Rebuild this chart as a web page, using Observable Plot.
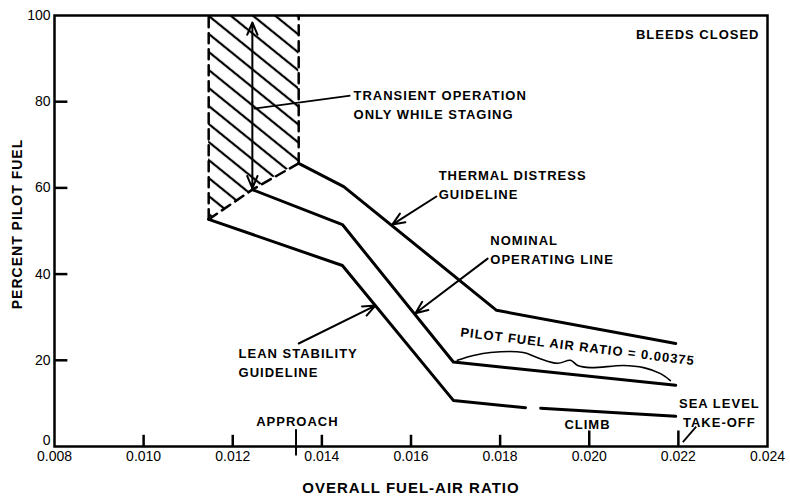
<!DOCTYPE html>
<html><head><meta charset="utf-8">
<script src="https://cdn.jsdelivr.net/npm/d3@7"></script>
<script src="https://cdn.jsdelivr.net/npm/@observablehq/plot@0.6"></script>
<style>body{margin:0;background:#fff}</style>
</head><body><div id="chart"></div>
<script>
// ---- axes ----
const xTicks = [0.008, 0.010, 0.012, 0.014, 0.016, 0.018, 0.020, 0.022, 0.024];
const xTickMarks = [0.010, 0.012, 0.014, 0.016, 0.018];
const xTickMarksLong = [0.020, 0.022];
const approachTick = [0.01342];
const yTicks = [20, 40, 60, 80, 100];
const yZeroTick = [0];
const yTickMarks = [20, 40, 60, 80];
const xTitle = "OVERALL FUEL-AIR RATIO";
const yTitle = "PERCENT PILOT FUEL";

// ---- lines ----
const thermalX = [0.01348, 0.01449, 0.01792, 0.02194];
const thermalY = [65.7, 60.3, 31.6, 23.9];
const nominalX = [0.01244, 0.01446, 0.01695, 0.02194];
const nominalY = [59.6, 51.5, 19.6, 14.2];
const leanX = [0.01146, 0.01446, 0.01695, 0.01857, 0.01891, 0.02194];
const leanY = [52.7, 42.0, 10.7, 9.0, 8.9, 7.0];
const leanPiece = [1, 1, 1, 1, 2, 2];

// pilot fuel-air ratio wavy marker
const pilotX = [0.01704, 0.01740, 0.01778, 0.01852, 0.01884, 0.01929, 0.01958, 0.01974, 0.02003, 0.02077, 0.02122, 0.02160, 0.02182];
const pilotY = [20.0, 21.1, 21.8, 21.8, 20.6, 19.3, 20.0, 18.8, 18.3, 18.8, 18.3, 16.9, 15.3];

// transient (hatched) region
const transientX = [0.01146, 0.01244, 0.01348];
const transientLow = [52.7, 59.6, 65.7];
const transientHigh = [100, 100, 100];

// ---- annotations ----
const labelText = ["TRANSIENT OPERATION\nONLY WHILE STAGING", "THERMAL DISTRESS\nGUIDELINE", "NOMINAL\nOPERATING LINE", "LEAN STABILITY\nGUIDELINE"];
const labelX = [0.01471, 0.01662, 0.01778, 0.01213];
const labelY = [79.6, 61.1, 45.9, 19.7];
const cornerText = ["BLEEDS CLOSED"];
const cornerX = [0.02382];
const cornerY = [95.6];
const seaText = ["SEA LEVEL\nTAKE-OFF"];
const seaX = [0.02292];
const seaY = [8.2];
const stageText = ["APPROACH", "CLIMB"];
const stageX = [0.01345, 0.01996];
const stageY = [5.8, 5.0];
const pilotText = ["PILOT FUEL AIR RATIO = 0.00375"];
const pilotTextX = [0.01711];
const pilotTextY = [26.5];

const arrowX1 = [0.01657, 0.01772, 0.01348, 0.01244, 0.01244];
const arrowY1 = [58.0, 43.6, 23.9, 80, 80];
const arrowX2 = [0.01558, 0.01610, 0.01520, 0.01244, 0.01244];
const arrowY2 = [51.5, 30.9, 32.7, 98.4, 59.9];
const leaderX1 = [0.01464, 0.02210];
const leaderY1 = [81.4, 1.0];
const leaderX2 = [0.01247, 0.02240];
const leaderY2 = [78.4, 4.6];

// ---- build tables ----
const zip = (xs, ys, extra = {}) => xs.map((x, i) => Object.assign({x, y: ys[i]}, Object.fromEntries(Object.entries(extra).map(([k, v]) => [k, v[i]]))));
const thermal = zip(thermalX, thermalY);
const nominal = zip(nominalX, nominalY);
const lean = zip(leanX, leanY, {piece: leanPiece});
const pilot = zip(pilotX, pilotY);
const transient = transientX.map((x, i) => ({x, lo: transientLow[i], hi: transientHigh[i]}));
const boundary = [
  {x: transientX[0], y: transientLow[0], s: "L"}, {x: transientX[0], y: transientHigh[0], s: "L"},
  {x: transientX[2], y: transientLow[2], s: "R"}, {x: transientX[2], y: transientHigh[2], s: "R"},
  ...transient.map(d => ({x: d.x, y: d.lo, s: "B"}))
];
const labels = zip(labelX, labelY, {t: labelText});
const arrows = arrowX1.map((x1, i) => ({x1, y1: arrowY1[i], x2: arrowX2[i], y2: arrowY2[i]}));
const leaders = leaderX1.map((x1, i) => ({x1, y1: leaderY1[i], x2: leaderX2[i], y2: leaderY2[i]}));

const FONT = "Liberation Sans, Arial, Helvetica, sans-serif";
const ann = {fill: "black", fontFamily: FONT, fontWeight: "bold", fontSize: 13};

const svg = Plot.plot({
  width: 790, height: 502,
  marginLeft: 54, marginRight: 23, marginTop: 15, marginBottom: 56,
  style: {fontFamily: FONT, background: "white", color: "black"},
  x: {domain: [0.008, 0.024]},
  y: {domain: [0, 100]},
  marks: [
    Plot.areaY(transient, {x: "x", y1: "lo", y2: "hi", fill: "url(#hatch)"}),
    Plot.line(boundary, {x: "x", y: "y", z: "s", stroke: "black", strokeWidth: 2.5, strokeDasharray: "10,6"}),
    Plot.axisX({ticks: xTicks, tickSize: 0, tickPadding: 5, tickFormat: d3.format(".3f"), fontSize: 14, label: null}),
    Plot.axisY({ticks: yTicks, tickSize: 0, tickPadding: 4, fontSize: 14, label: null}),
    Plot.axisY({ticks: yZeroTick, tickSize: 0, tickPadding: 4, dy: -6, fontSize: 14, label: null}),
    Plot.ruleX(xTickMarks, {x: d => d, y1: 0, y2: 2.6, strokeWidth: 2.5}),
    Plot.ruleX(xTickMarksLong, {x: d => d, y1: 0, y2: 3.6, strokeWidth: 2.5}),
    Plot.ruleX(approachTick, {x: d => d, y1: -2.2, y2: 3.9, strokeWidth: 2}),
    Plot.ruleY(yTickMarks, {y: d => d, x1: 0.008, x2: 0.0083, strokeWidth: 2.5}),
    Plot.frame({stroke: "black", strokeWidth: 2.5}),
    Plot.line(thermal, {x: "x", y: "y", stroke: "black", strokeWidth: 3}),
    Plot.line(nominal, {x: "x", y: "y", stroke: "black", strokeWidth: 3}),
    Plot.line(lean, {x: "x", y: "y", z: "piece", stroke: "black", strokeWidth: 3}),
    Plot.line(pilot, {x: "x", y: "y", stroke: "black", strokeWidth: 1.6, curve: "catmull-rom"}),
    Plot.arrow(arrows, {x1: "x1", y1: "y1", x2: "x2", y2: "y2", stroke: "black", strokeWidth: 2, headLength: 10, headAngle: 45}),
    Plot.link(leaders, {x1: "x1", y1: "y1", x2: "x2", y2: "y2", stroke: "black", strokeWidth: 1.8}),
    Plot.text(labels, {x: "x", y: "y", text: "t", textAnchor: "start", lineHeight: 1.45, ...ann}),
    Plot.text(cornerText, {x: cornerX, y: cornerY, text: d => d, textAnchor: "end", ...ann}),
    Plot.text(seaText, {x: seaX, y: seaY, text: d => d, textAnchor: "middle", lineHeight: 1.45, ...ann}),
    Plot.text(stageText, {x: stageX, y: stageY, text: d => d, textAnchor: "middle", ...ann}),
    Plot.text(pilotText, {x: pilotTextX, y: pilotTextY, text: d => d, textAnchor: "start", rotate: 7, ...ann}),
    Plot.text([yTitle], {frameAnchor: "left", textAnchor: "middle", lineAnchor: "middle", dx: -37, dy: -7, rotate: -90, ...ann, fontSize: 14}),
    Plot.text([xTitle], {frameAnchor: "bottom", textAnchor: "middle", lineAnchor: "middle", dy: 42, ...ann, fontSize: 15})
  ]
});

// hatch pattern
const ns = "http://www.w3.org/2000/svg";
const defs = document.createElementNS(ns, "defs");
defs.innerHTML = '<pattern id="hatch" patternUnits="userSpaceOnUse" width="14" height="14" patternTransform="rotate(39)"><line x1="-2" y1="7" x2="16" y2="7" stroke="black" stroke-width="2.2"/></pattern>';
svg.insertBefore(defs, svg.firstChild);
svg.querySelectorAll('g[aria-label="text"] text').forEach(t => t.style.letterSpacing = "1px");
document.getElementById("chart").appendChild(svg);
</script>
</body></html>
